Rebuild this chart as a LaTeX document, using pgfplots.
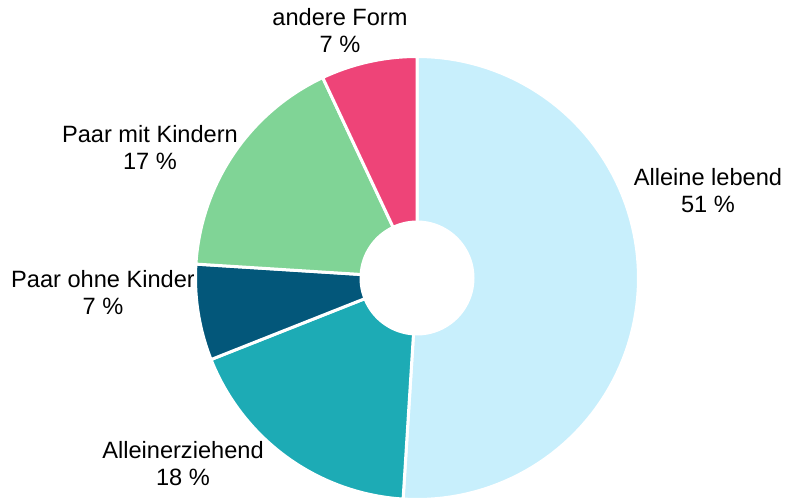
\documentclass[border=0pt]{standalone}
\usepackage{pgfplots}
\pgfplotsset{compat=1.18}
\usepackage{fontspec}
\setmainfont{Liberation Sans}
\definecolor{cA}{HTML}{C8EFFC}
\definecolor{cB}{HTML}{1DABB5}
\definecolor{cC}{HTML}{03577A}
\definecolor{cD}{HTML}{80D496}
\definecolor{cE}{HTML}{EE4478}
\def\cx{417}
\def\cy{219}
\def\R{221.5}
\def\r{57.5}
\gdef\cum{0}
\newcommand\slice[2]{%
  \pgfmathsetmacro\aa{90-3.6*\cum}%
  \pgfmathsetmacro\bb{90-3.6*(\cum+#1)}%
  \pgfmathsetmacro\nc{\cum+#1}%
  \xdef\cum{\nc}%
  \edef\tmp{\noexpand\addplot[fill=#2, draw=white, line width=3pt, line join=round, domain=\aa:\bb, samples=90]
    ({\cx+\R*cos(x)},{\cy+\R*sin(x)}) -- (axis cs:\cx,\cy) -- cycle;}%
  \tmp
}
\tikzset{lbl/.style={font=\fontsize{23.6}{27}\selectfont, align=center, text=black, inner sep=0pt}}
\begin{document}
\begin{tikzpicture}
\begin{axis}[
  width=785pt, height=497pt, scale only axis,
  xmin=0, xmax=785, ymin=0, ymax=497,
  hide axis, clip=false,
]
\node[lbl] at (axis cs:708,306) {Alleine lebend\\51 \%};
\node[lbl] at (axis cs:183,33) {Alleinerziehend\\18 \%};
\node[lbl] at (axis cs:103,204) {Paar ohne Kinder\\7 \%};
\node[lbl] at (axis cs:150,349) {Paar mit Kindern\\17 \%};
\node[lbl] at (axis cs:340,466) {andere Form\\7 \%};
\slice{51}{cA}
\slice{18}{cB}
\slice{7}{cC}
\slice{17}{cD}
\slice{7}{cE}
\addplot[fill=white, draw=none, domain=0:360, samples=120] ({\cx+\r*cos(x)},{\cy+\r*sin(x)}) -- cycle;
\path (rel axis cs:0,0) rectangle (rel axis cs:1,1);
\end{axis}
\end{tikzpicture}
\end{document}
